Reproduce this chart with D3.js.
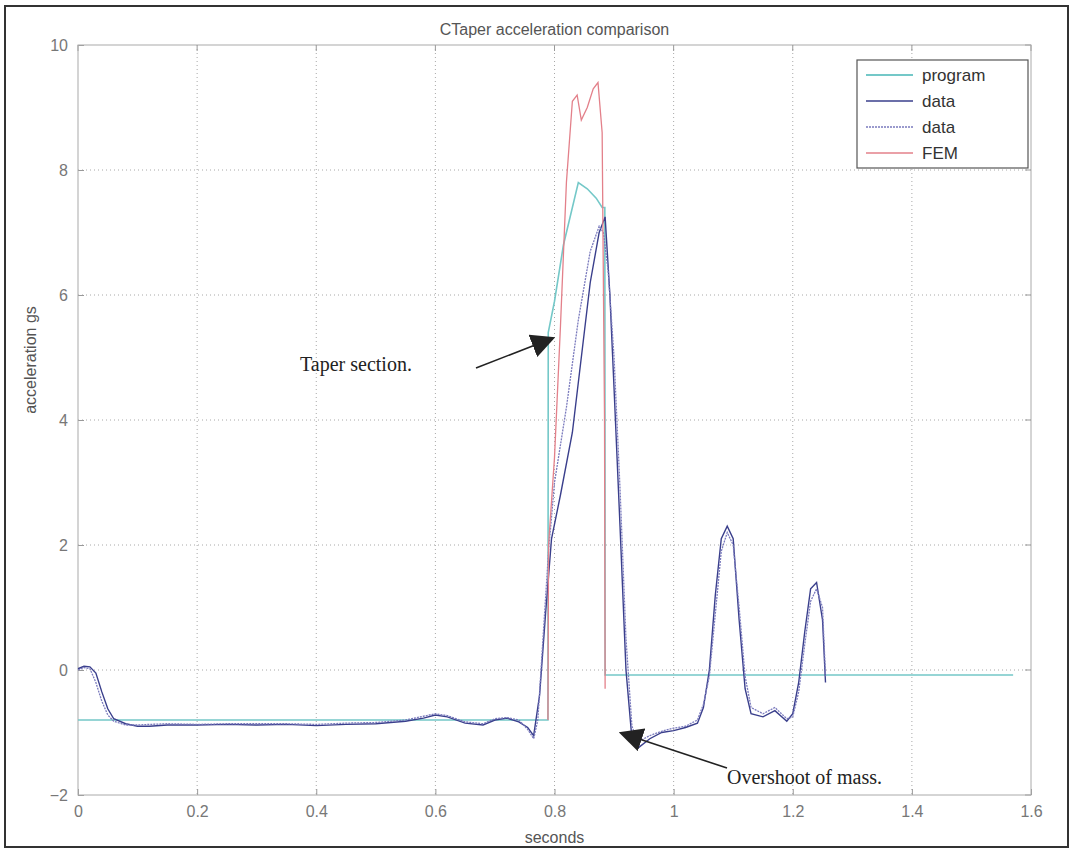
<!DOCTYPE html>
<html><head><meta charset="utf-8">
<script src="https://cdn.jsdelivr.net/npm/d3@7"></script>
<style>
body{margin:0;background:#fff;}
svg{display:block;}
</style></head>
<body>
<svg id="chart" width="1073" height="854"></svg>
<script>
// ---- data ----
const xTicks = [0, 0.2, 0.4, 0.6, 0.8, 1, 1.2, 1.4, 1.6];
const yTicks = [-2, 0, 2, 4, 6, 8, 10];
const seriesNames = ["program", "data", "data", "FEM"];

const tProgram = [0, 0.789, 0.7895, 0.80, 0.815, 0.84, 0.855, 0.87, 0.88, 0.8845, 0.885, 1.57];
const vProgram = [-0.8, -0.8, 5.4, 5.9, 6.8, 7.8, 7.7, 7.55, 7.4, 7.4, -0.08, -0.08];

const tData1 = [0, 0.01, 0.02, 0.03, 0.04, 0.05, 0.06, 0.08, 0.1, 0.12, 0.15, 0.2, 0.25, 0.3, 0.35, 0.4, 0.45, 0.5, 0.55, 0.58, 0.6, 0.62, 0.65, 0.68, 0.7, 0.72, 0.74, 0.755, 0.765, 0.775, 0.785, 0.795, 0.81, 0.83, 0.845, 0.86, 0.875, 0.885, 0.893, 0.9, 0.91, 0.92, 0.93, 0.94, 0.96, 0.98, 1.0, 1.02, 1.04, 1.05, 1.06, 1.07, 1.08, 1.09, 1.1, 1.11, 1.12, 1.13, 1.15, 1.17, 1.19, 1.2, 1.21, 1.22, 1.23, 1.24, 1.25, 1.255];
const vData1 = [0.02, 0.06, 0.05, -0.05, -0.35, -0.62, -0.78, -0.86, -0.9, -0.9, -0.88, -0.88, -0.87, -0.88, -0.87, -0.89, -0.87, -0.86, -0.82, -0.77, -0.72, -0.75, -0.85, -0.88, -0.8, -0.77, -0.83, -0.92, -1.05, -0.4, 0.9, 2.1, 2.8, 3.8, 5.0, 6.2, 7.0, 7.25, 6.0, 4.5, 2.3, 0.0, -1.1, -1.25, -1.1, -1.0, -0.97, -0.92, -0.85, -0.6, 0.0, 1.2, 2.1, 2.3, 2.1, 0.8, -0.3, -0.7, -0.75, -0.65, -0.82, -0.7, -0.2, 0.6, 1.3, 1.4, 0.8, -0.2];

const tData2 = [0, 0.01, 0.02, 0.03, 0.04, 0.05, 0.06, 0.08, 0.1, 0.12, 0.15, 0.2, 0.25, 0.3, 0.35, 0.4, 0.45, 0.5, 0.55, 0.58, 0.6, 0.62, 0.65, 0.68, 0.7, 0.72, 0.74, 0.755, 0.765, 0.772, 0.78, 0.79, 0.80, 0.82, 0.84, 0.86, 0.875, 0.882, 0.89, 0.9, 0.91, 0.92, 0.93, 0.94, 0.96, 0.98, 1.0, 1.02, 1.04, 1.05, 1.06, 1.07, 1.08, 1.09, 1.1, 1.11, 1.12, 1.13, 1.15, 1.17, 1.19, 1.2, 1.21, 1.22, 1.23, 1.24, 1.25, 1.255];
const vData2 = [0.0, 0.04, 0.02, -0.2, -0.5, -0.72, -0.82, -0.88, -0.88, -0.87, -0.86, -0.87, -0.86, -0.86, -0.86, -0.87, -0.85, -0.84, -0.8, -0.74, -0.7, -0.73, -0.83, -0.86, -0.78, -0.76, -0.8, -0.95, -1.1, -0.8, 0.4, 1.9, 3.0, 4.2, 5.6, 6.7, 7.1, 7.0, 6.4, 5.0, 2.9, 0.5, -0.9, -1.15, -1.05, -0.98, -0.93, -0.9, -0.8, -0.55, -0.1, 0.9, 1.9, 2.2, 2.0, 1.0, -0.1, -0.6, -0.7, -0.6, -0.78, -0.75, -0.35, 0.4, 1.1, 1.3, 1.0, -0.1];

const tFEM = [0.789, 0.79, 0.80, 0.81, 0.82, 0.83, 0.838, 0.845, 0.855, 0.865, 0.873, 0.88, 0.884, 0.885];
const vFEM = [-0.8, 2.0, 3.4, 5.5, 7.8, 9.1, 9.2, 8.8, 9.0, 9.3, 9.4, 8.6, 4.0, -0.3];

// ---- layout ----
const svg = d3.select("#chart");
const L = 78, R = 1031, T = 45, B = 795;
const x = d3.scaleLinear().domain([0, 1.6]).range([L, R]);
const y = d3.scaleLinear().domain([-2, 10]).range([B, T]);
const font = "'Liberation Sans', Arial, sans-serif";

// outer frame
svg.append("rect").attr("x", 5).attr("y", 6).attr("width", 1063).attr("height", 841)
  .attr("fill", "none").attr("stroke", "#333").attr("stroke-width", 2);

// grid
const grid = svg.append("g");
grid.selectAll(".gx").data(xTicks.slice(1, -1)).enter().append("line")
  .attr("x1", d => x(d)).attr("x2", d => x(d)).attr("y1", T).attr("y2", B)
  .attr("stroke", "#a8a8a8").attr("stroke-width", 1).attr("stroke-dasharray", "1,3");
grid.selectAll(".gy").data(yTicks.slice(1, -1)).enter().append("line")
  .attr("x1", L).attr("x2", R).attr("y1", d => y(d)).attr("y2", d => y(d))
  .attr("stroke", "#a8a8a8").attr("stroke-width", 1).attr("stroke-dasharray", "1,3");

// axes
const xAxis = d3.axisBottom(x).tickValues(xTicks).tickSize(-6).tickPadding(11).tickFormat(d3.format("~g"));
const yAxis = d3.axisLeft(y).tickValues(yTicks).tickSize(-6).tickPadding(10).tickFormat(d3.format("~g"));
const gx = svg.append("g").attr("transform", `translate(0,${B})`).call(xAxis);
const gy = svg.append("g").attr("transform", `translate(${L},0)`).call(yAxis);
[gx, gy].forEach(g => {
  g.select(".domain").remove();
  g.selectAll(".tick line").attr("stroke", "#999");
  g.selectAll("text").attr("font-family", font).attr("font-size", 16).attr("fill", "#777");
});
// top and right ticks
svg.append("g").selectAll("line").data(xTicks).enter().append("line")
  .attr("x1", d => x(d)).attr("x2", d => x(d)).attr("y1", T).attr("y2", T + 6).attr("stroke", "#999");
svg.append("g").selectAll("line").data(yTicks).enter().append("line")
  .attr("x1", R - 6).attr("x2", R).attr("y1", d => y(d)).attr("y2", d => y(d)).attr("stroke", "#999");

// plot box
svg.append("rect").attr("x", L).attr("y", T).attr("width", R - L).attr("height", B - T)
  .attr("fill", "none").attr("stroke", "#aaa").attr("stroke-width", 1);

// series
const line = d3.line().x(d => x(d[0])).y(d => y(d[1]));
const series = [
  {t: tProgram, v: vProgram, color: "#74c8c8", w: 1.6, dash: null},
  {t: tData1, v: vData1, color: "#3a3f8c", w: 1.4, dash: null},
  {t: tData2, v: vData2, color: "#7a7abd", w: 1.3, dash: "2,1"},
  {t: tFEM, v: vFEM, color: "#e3808a", w: 1.3, dash: null}
];
const gS = svg.append("g");
series.forEach(s => {
  gS.append("path").datum(d3.zip(s.t, s.v)).attr("d", line)
    .attr("fill", "none").attr("stroke", s.color).attr("stroke-width", s.w)
    .attr("stroke-dasharray", s.dash);
});

// title and labels
svg.append("text").attr("x", (L + R) / 2).attr("y", 35).attr("text-anchor", "middle")
  .attr("font-family", font).attr("font-size", 16).attr("fill", "#555").text("CTaper acceleration comparison");
svg.append("text").attr("x", (L + R) / 2).attr("y", 843).attr("text-anchor", "middle")
  .attr("font-family", font).attr("font-size", 16).attr("fill", "#555").text("seconds");
svg.append("text").attr("transform", "translate(36,360) rotate(-90)").attr("text-anchor", "middle")
  .attr("font-family", font).attr("font-size", 16).attr("fill", "#555").text("acceleration gs");

// legend
const lg = svg.append("g");
lg.append("rect").attr("x", 857).attr("y", 60).attr("width", 171).attr("height", 108)
  .attr("fill", "#fff").attr("stroke", "#555").attr("stroke-width", 1.2);
series.forEach((s, i) => {
  const yy = 75 + i * 26;
  lg.append("line").attr("x1", 866).attr("x2", 913).attr("y1", yy).attr("y2", yy)
    .attr("stroke", s.color).attr("stroke-width", s.w + 0.3).attr("stroke-dasharray", s.dash);
  lg.append("text").attr("x", 922).attr("y", yy + 6).attr("font-family", font)
    .attr("font-size", 17).attr("fill", "#333").text(seriesNames[i]);
});

// annotations
svg.append("defs").append("marker").attr("id", "arr").attr("viewBox", "0 0 10 10")
  .attr("refX", 9).attr("refY", 5).attr("markerWidth", 24).attr("markerHeight", 24)
  .attr("markerUnits", "userSpaceOnUse").attr("orient", "auto")
  .append("path").attr("d", "M0,0 L10,5 L0,10 z").attr("fill", "#222");
const serif = "'Liberation Serif', 'Times New Roman', serif";
svg.append("text").attr("x", 300).attr("y", 371).attr("font-family", serif).attr("font-size", 20)
  .attr("fill", "#222").text("Taper section.");
svg.append("line").attr("x1", 476).attr("y1", 368).attr("x2", 553).attr("y2", 338)
  .attr("stroke", "#222").attr("stroke-width", 1.6).attr("marker-end", "url(#arr)");
svg.append("text").attr("x", 727).attr("y", 784).attr("font-family", serif).attr("font-size", 20)
  .attr("fill", "#222").text("Overshoot of mass.");
svg.append("line").attr("x1", 727).attr("y1", 768).attr("x2", 621).attr("y2", 733)
  .attr("stroke", "#222").attr("stroke-width", 1.6).attr("marker-end", "url(#arr)");
</script>
</body></html>
